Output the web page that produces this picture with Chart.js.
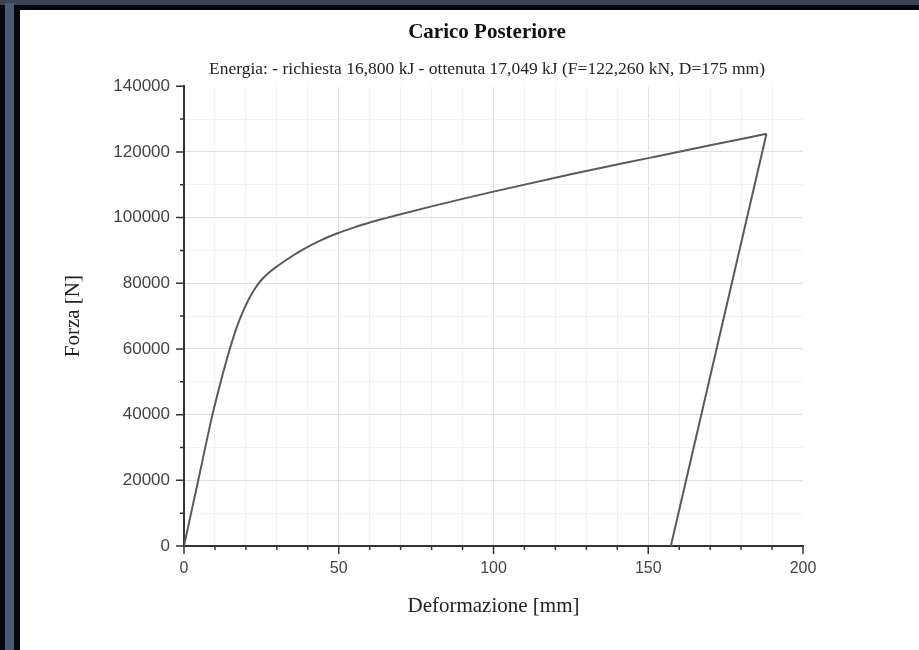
<!DOCTYPE html>
<html lang="it">
<head>
<meta charset="utf-8">
<title>Carico Posteriore</title>
<script src="https://cdn.jsdelivr.net/npm/chart.js"></script>
<style>
  html, body { margin: 0; padding: 0; }
  body { width: 919px; height: 650px; position: relative; overflow: hidden; background: #05070d; }
  #topband { position: absolute; left: 0; top: 0; width: 919px; height: 5px; background: #3a4556; }
  #sideband { position: absolute; left: 5px; top: 3px; width: 9px; height: 647px; background: #4a5a70; }
  #panel { position: absolute; left: 20px; top: 10px; width: 899px; height: 640px; background: #fff; }
</style>
</head>
<body>
<div id="topband"></div>
<div id="sideband"></div>
<div id="panel">
    <canvas id="caricoChart" width="899" height="640"></canvas>
</div>

<script>
    // curva forza-deformazione (carico fino al picco, poi scarico)
    const deformazione = [0, 4.6, 9.2, 12, 14.8, 17, 19.1, 21, 23, 25, 27.5, 30, 34, 38.5,
        44, 49.8, 55, 60, 70, 80, 90, 100, 125, 150, 170, 188.2, 157.3];
    const forza = [0, 20000, 40000, 50500, 60000, 66500, 71500, 75300, 78500, 81000, 83300, 85100, 87700, 90300,
        93000, 95300, 97000, 98500, 101000, 103400, 105700, 107900, 113200, 118100, 122000, 125500, 0];

    const xMax = 200, xStep = 10, xLabelStep = 50;
    const yMax = 140000, yStep = 10000, yLabelStep = 20000;

    const serif = "'Liberation Serif', 'DejaVu Serif', serif";
    const sans = "'Liberation Sans', Arial, sans-serif";

    const punti = deformazione.map((x, i) => ({x: x, y: forza[i]}));
    const picco = punti.length - 2;

    // tacche principali e secondarie sugli assi
    const tickMarks = {
        id: 'tickMarks',
        afterDraw(chart) {
            const ctx = chart.ctx;
            const xs = chart.scales.x, ys = chart.scales.y;
            ctx.save();
            ctx.strokeStyle = '#333';
            ctx.lineWidth = 1.5;
            ctx.beginPath();
            xs.ticks.forEach(t => {
                const px = xs.getPixelForValue(t.value);
                const len = t.value % xLabelStep === 0 ? 8 : 4;
                ctx.moveTo(px, xs.top);
                ctx.lineTo(px, xs.top + len);
            });
            ys.ticks.forEach(t => {
                const py = ys.getPixelForValue(t.value);
                const len = t.value % yLabelStep === 0 ? 8 : 4;
                ctx.moveTo(ys.right, py);
                ctx.lineTo(ys.right - len, py);
            });
            ctx.stroke();
            ctx.restore();
        }
    };

    const gridColor = (step, max) => c => {
        const v = c.tick ? c.tick.value : 0;
        if (v === 0 || v === max) return 'rgba(0,0,0,0)';
        return v % step === 0 ? '#e0e0e0' : '#f1f1f1';
    };

    const ctx = document.getElementById('caricoChart').getContext('2d');
    new Chart(ctx, {
        type: 'line',
        data: {
            datasets: [{
                // carico
                data: punti.slice(0, picco + 1),
                borderColor: '#5a5a5a',
                borderWidth: 2,
                pointRadius: 0,
                cubicInterpolationMode: 'monotone',
                fill: false
            }, {
                // scarico
                data: punti.slice(picco),
                borderColor: '#5a5a5a',
                borderWidth: 2,
                pointRadius: 0,
                tension: 0,
                fill: false
            }]
        },
        options: {
            responsive: false,
            animation: false,
            layout: {padding: {left: 35, right: 0, top: 0, bottom: 0}},
            plugins: {
                legend: {display: false},
                tooltip: {enabled: false},
                title: {
                    display: true,
                    text: 'Carico Posteriore',
                    color: '#111',
                    font: {family: serif, size: 21, weight: 'bold'},
                    padding: {top: 10, bottom: 14}
                },
                subtitle: {
                    display: true,
                    text: 'Energia: - richiesta 16,800 kJ - ottenuta 17,049 kJ (F=122,260 kN, D=175 mm)',
                    color: '#222',
                    font: {family: serif, size: 17.5},
                    padding: {top: 0, bottom: 6}
                }
            },
            scales: {
                x: {
                    type: 'linear',
                    min: 0,
                    max: xMax,
                    border: {display: true, color: '#333', width: 2},
                    grid: {color: gridColor(xLabelStep, xMax), drawTicks: false},
                    ticks: {
                        stepSize: xStep,
                        autoSkip: false,
                        maxRotation: 0,
                        padding: 13,
                        color: '#444',
                        font: {family: sans, size: 16},
                        callback: v => v % xLabelStep === 0 ? String(v) : ''
                    },
                    title: {
                        display: true,
                        text: 'Deformazione [mm]',
                        color: '#222',
                        font: {family: serif, size: 21},
                        padding: {top: 0, bottom: 31}
                    },
                    afterFit: s => { s.height = 104; }
                },
                y: {
                    min: 0,
                    max: yMax,
                    border: {display: true, color: '#333', width: 2},
                    grid: {color: gridColor(yLabelStep, yMax), drawTicks: false},
                    ticks: {
                        stepSize: yStep,
                        autoSkip: false,
                        padding: 14,
                        color: '#444',
                        font: {family: sans, size: 17},
                        callback: v => v % yLabelStep === 0 ? String(v) : ''
                    },
                    title: {
                        display: true,
                        text: 'Forza [N]',
                        color: '#222',
                        font: {family: serif, size: 21},
                        padding: {top: 6, bottom: 0}
                    },
                    afterFit: s => { s.width = 129; }
                },
                spazio: {
                    position: 'right',
                    min: 0,
                    max: 1,
                    grid: {display: false},
                    border: {display: false},
                    ticks: {display: false},
                    afterFit: s => { s.width = 116; }
                }
            }
        },
        plugins: [tickMarks]
    });
</script>
</body>
</html>
